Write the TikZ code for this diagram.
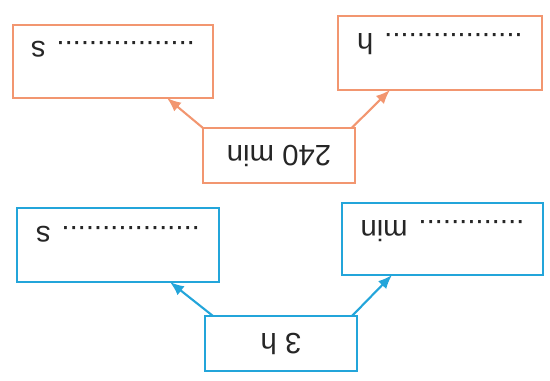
\documentclass[tikz,border=0pt]{standalone}
\usepackage{fontspec}
\setmainfont{Liberation Sans}
\usepackage{tikz}
\usetikzlibrary{arrows.meta}
\usepackage{xcolor}
\definecolor{kaderblauw}{RGB}{35,165,218}
\definecolor{kaderoranje}{RGB}{242,150,112}

\begin{document}
\begin{tikzpicture}[rotate=180, transform shape, every node/.style={inner sep=0,outer sep=0, font=\fontsize{25}{30}\selectfont, text=black!85}, line width=1.8pt]
		\useasboundingbox (0,0) rectangle (16.5,-11.43);
		
		%Boxes
		\node[draw=kaderblauw, fill=white, minimum width=4.56cm, minimum height=1.65cm] (uur) at (8.07,-1.125) {3 h};
		\node[draw=kaderblauw, fill=white, minimum width=6.03cm, minimum height=2.16cm] (min1) at (3.225,-4.26) {};
		\node[draw=kaderblauw, fill=white, minimum width=6.06cm, minimum height=2.22cm] (sec1) at (12.96,-4.08) {};
		\node[draw=kaderoranje, fill=white, minimum width=4.56cm, minimum height=1.65cm] (min) at (8.13,-6.765) {240 min};
		\node[draw=kaderoranje, fill=white, minimum width=6.12cm, minimum height=2.22cm] (uur2) at (3.3,-9.84) {};
		\node[draw=kaderoranje, fill=white, minimum width=6.0cm, minimum height=2.19cm] (sec2) at (13.11,-9.585) {};
		
		%Texts
		\node[anchor=base] (t1) at ([yshift=0.52cm]min1.south) {............. min};
		\node[anchor=base] (t2) at ([yshift=0.55cm]sec1.south) {................. s};
		\node[anchor=base] (t3) at ([yshift=0.52cm]uur2.south) {................. h};
		\node[anchor=base] (t4) at ([yshift=0.5cm]sec2.south) {................. s};
		
		%Lines
		\draw[-{Latex[length=0.42cm,width=0.34cm]}, kaderblauw] ([xshift=0.15cm]uur.south west) -- ([xshift=-1.5cm]min1.north east);
		\draw[-{Latex[length=0.42cm,width=0.34cm]}, kaderblauw] ([xshift=-0.24cm]uur.south east) -- ([xshift=1.47cm]sec1.north west);
		\draw[-{Latex[length=0.42cm,width=0.34cm]}, kaderoranje] ([xshift=0.1cm]min.south west) -- ([xshift=-1.56cm]uur2.north east);
		\draw[-{Latex[length=0.42cm,width=0.34cm]}, kaderoranje] (min.south east) -- ([xshift=1.38cm]sec2.north west);
	\end{tikzpicture}
\end{document}
